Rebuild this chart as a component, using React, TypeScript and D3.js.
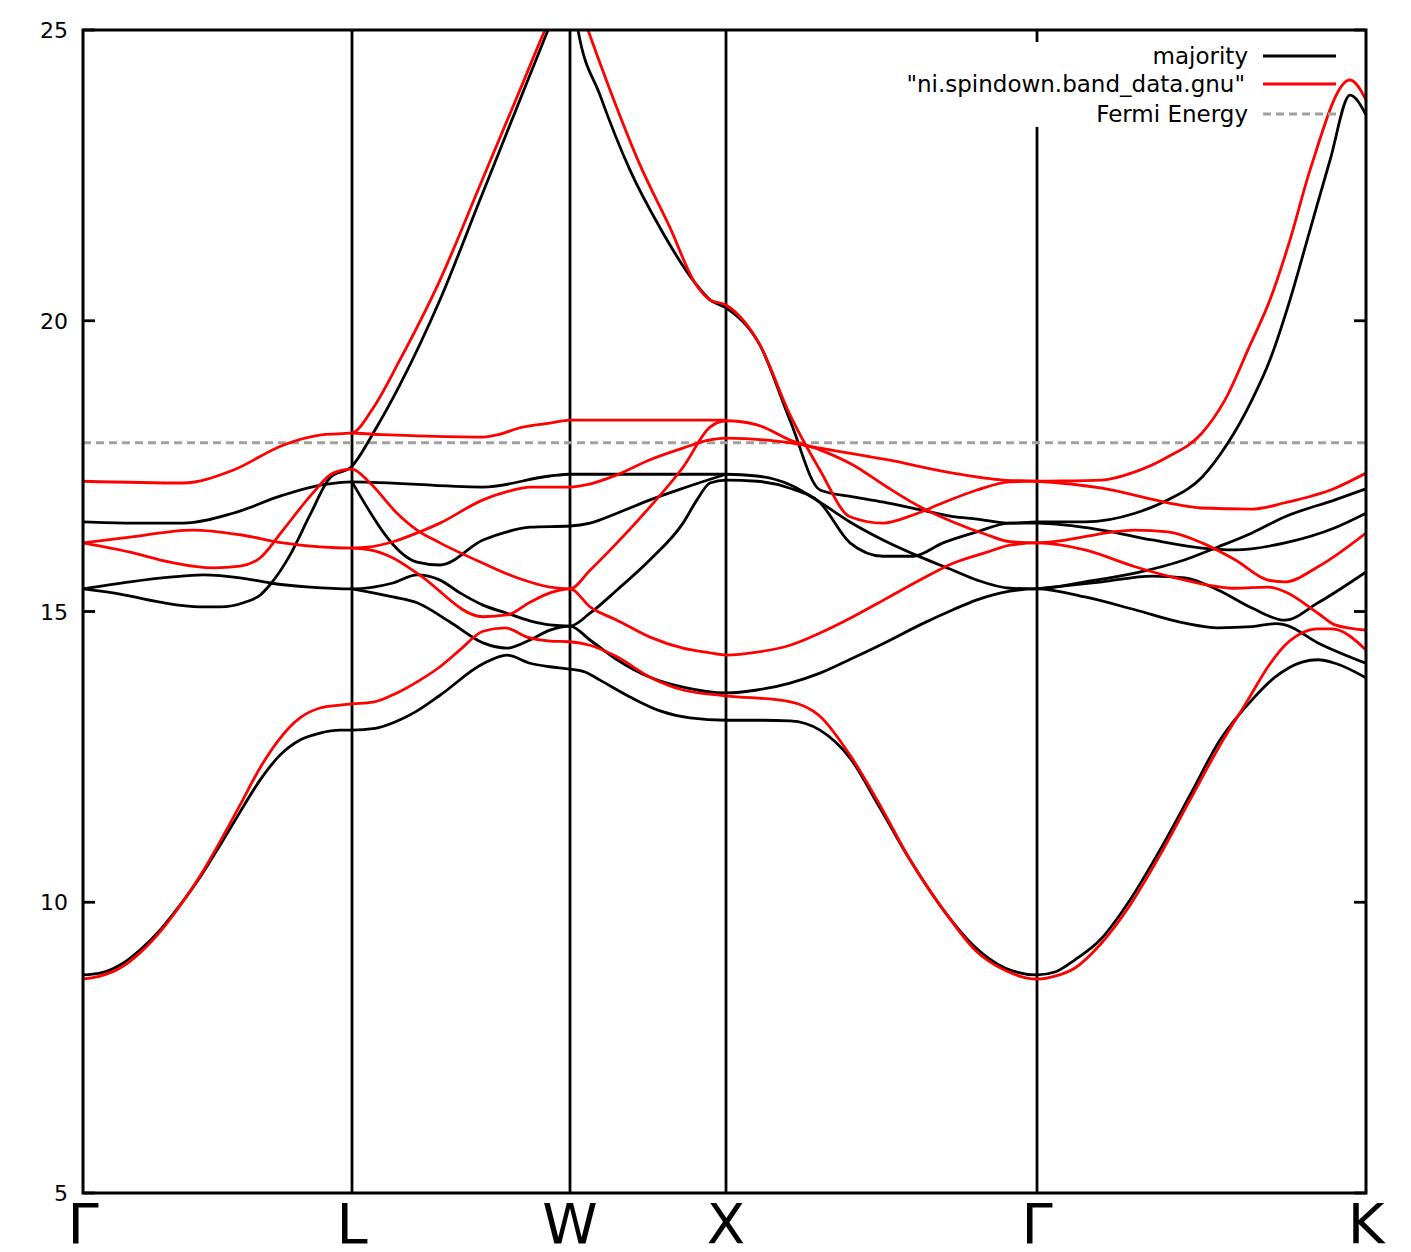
import React from "react";
import * as d3 from "d3";

// k-path positions of high-symmetry points (path-length units)
const symLabels = ["Γ", "L", "W", "X", "Γ", "K"];
const symK = [0, 269, 487, 643, 954, 1283];
const yTicks = [5, 10, 15, 20, 25];
const fermiEnergy = 17.9;

type Pt = [number, number];

// majority (spin-up) bands: [k, energy]
const maj1: Pt[] = [[0,8.75],[17,8.78],[37,8.92],[57,9.18],[77,9.52],[97,9.95],[117,10.43],[137,10.98],[157,11.55],[177,12.10],[197,12.53],[217,12.79],[237,12.91],[257,12.96],[269,12.96],[292,12.99],[312,13.10],[332,13.27],[357,13.56],[400,14.10],[424,14.25],[447,14.11],[467,14.05],[487,14.01],[502,13.96],[517,13.82],[547,13.53],[577,13.29],[607,13.17],[643,13.13],[677,13.13],[707,13.12],[737,12.96],[767,12.48],[797,11.62],[827,10.73],[862,9.83],[892,9.23],[922,8.87],[954,8.75],[972,8.80],[992,9.01],[1017,9.35],[1047,10.04],[1077,10.90],[1107,11.84],[1137,12.79],[1169,13.48],[1192,13.87],[1219,14.13],[1235,14.17],[1252,14.11],[1283,13.86]];
const maj2: Pt[] = [[0,15.39],[37,15.30],[77,15.16],[117,15.08],[137,15.08],[162,15.16],[177,15.28],[187,15.46],[207,15.97],[227,16.66],[247,17.30],[269,17.50],[292,18.12],[317,18.90],[357,20.36],[397,22.08],[437,23.80],[465,25.0],[487,25.9],[495,25.0],[517,23.88],[547,22.59],[577,21.6],[612,20.65],[627,20.36],[643,20.22],[677,19.58],[707,18.29],[737,17.09],[770,16.97],[804,16.87],[837,16.75],[870,16.63],[894,16.59],[927,16.52],[954,16.54],[1002,16.54],[1052,16.69],[1085,16.92],[1119,17.31],[1145,17.90],[1169,18.64],[1187,19.33],[1207,20.36],[1227,21.56],[1247,22.76],[1267,23.88],[1283,23.54]];
const maj3: Pt[] = [[0,15.39],[47,15.51],[87,15.59],[120,15.63],[157,15.58],[187,15.49],[227,15.42],[269,15.39],[310,15.49],[334,15.63],[357,15.54],[377,15.32],[400,15.11],[424,14.97],[447,14.84],[467,14.77],[487,14.75],[507,14.97],[534,15.37],[567,15.89],[600,16.52],[614,16.92],[627,17.21],[643,17.26],[674,17.24],[707,17.12],[737,16.87],[767,16.18],[800,15.95],[830,15.95],[860,16.18],[894,16.37],[927,16.52],[954,16.52],[1019,16.40],[1069,16.23],[1119,16.09],[1152,16.06],[1202,16.18],[1252,16.44],[1283,16.69]];
const maj4: Pt[] = [[0,16.54],[47,16.52],[100,16.52],[150,16.69],[200,17.00],[240,17.18],[269,17.23],[400,17.14],[467,17.33],[487,17.36],[643,17.36],[674,17.33],[707,17.18],[737,16.88],[767,16.54],[800,16.23],[837,15.94],[870,15.71],[894,15.54],[927,15.40],[954,15.39],[1002,15.51],[1052,15.66],[1102,15.89],[1135,16.11],[1169,16.35],[1202,16.63],[1252,16.92],[1283,17.11]];
const maj5: Pt[] = [[269,17.23],[334,15.85],[357,15.80],[400,16.23],[424,16.37],[447,16.45],[487,16.47],[507,16.52],[534,16.69],[567,16.92],[600,17.12],[643,17.36]];
const maj6: Pt[] = [[269,15.39],[310,15.25],[334,15.15],[367,14.82],[400,14.46],[424,14.37],[447,14.51],[467,14.68],[487,14.75],[507,14.51],[534,14.17],[567,13.87],[600,13.70],[643,13.60],[674,13.65],[707,13.77],[737,13.94],[770,14.20],[804,14.48],[837,14.77],[870,15.03],[894,15.20],[927,15.35],[954,15.39],[1002,15.25],[1052,15.03],[1102,14.80],[1135,14.72],[1169,14.74],[1192,14.79],[1202,14.77],[1235,14.46],[1283,14.11]];
const maj7: Pt[] = [[954,15.39],[1019,15.51],[1069,15.61],[1102,15.58],[1135,15.37],[1169,15.06],[1202,14.85],[1235,15.15],[1283,15.68]];

// minority (spin-down) bands
const min1: Pt[] = [[0,8.68],[17,8.73],[37,8.87],[57,9.13],[77,9.49],[97,9.94],[117,10.45],[137,11.04],[157,11.67],[177,12.31],[197,12.82],[217,13.17],[237,13.34],[257,13.39],[269,13.41],[290,13.44],[314,13.60],[337,13.82],[357,14.05],[377,14.34],[400,14.66],[422,14.72],[444,14.56],[467,14.49],[487,14.48],[507,14.42],[534,14.22],[567,13.87],[600,13.65],[643,13.55],[704,13.46],[737,13.20],[767,12.53],[797,11.67],[827,10.73],[862,9.83],[892,9.18],[922,8.83],[954,8.68],[972,8.73],[992,8.87],[1017,9.27],[1047,9.95],[1077,10.81],[1107,11.76],[1137,12.70],[1165,13.48],[1185,14.05],[1202,14.42],[1219,14.63],[1235,14.70],[1249,14.70],[1283,14.34]];
const min2: Pt[] = [[0,16.18],[47,16.02],[87,15.85],[130,15.75],[157,15.78],[177,15.92],[200,16.40],[230,17.04],[250,17.38],[269,17.45],[287,17.21],[314,16.69],[334,16.40],[357,16.18],[400,15.83],[434,15.58],[467,15.42],[487,15.39],[507,15.71],[534,16.18],[567,16.80],[600,17.48],[627,18.17],[643,18.28],[674,18.21],[707,17.95],[737,17.78],[770,17.52],[804,17.14],[837,16.80],[870,16.54],[904,16.32],[927,16.20],[954,16.18],[1052,16.40],[1085,16.37],[1119,16.18],[1152,15.89],[1185,15.54],[1202,15.51],[1235,15.77],[1283,16.35]];
const min3: Pt[] = [[0,16.18],[47,16.28],[110,16.40],[157,16.32],[200,16.18],[237,16.11],[269,16.09],[287,16.11],[310,16.20],[334,16.35],[357,16.52],[400,16.92],[424,17.06],[447,17.14],[487,17.14],[504,17.18],[534,17.35],[567,17.61],[600,17.81],[627,17.95],[643,17.98],[704,17.91],[737,17.81],[804,17.61],[870,17.38],[920,17.26],[954,17.24],[1019,17.12],[1085,16.87],[1119,16.78],[1169,16.76],[1202,16.87],[1252,17.12],[1283,17.38]];
const min4: Pt[] = [[269,16.09],[287,16.06],[310,15.92],[334,15.66],[400,14.91],[424,14.94],[447,15.16],[467,15.32],[487,15.39],[507,15.08],[534,14.85],[567,14.56],[600,14.37],[627,14.29],[643,14.25],[674,14.30],[707,14.42],[737,14.63],[770,14.91],[804,15.23],[837,15.54],[870,15.83],[904,16.02],[927,16.14],[954,16.18],[1002,16.06],[1052,15.77],[1102,15.54],[1152,15.40],[1185,15.42],[1202,15.34],[1235,14.97],[1252,14.77],[1283,14.68]];
const min5: Pt[] = [[0,17.24],[100,17.21],[150,17.43],[200,17.86],[240,18.04],[269,18.07],[289,18.47],[317,19.33],[357,20.70],[397,22.33],[437,23.97],[462,25.0],[487,25.9],[505,25.0],[527,23.97],[557,22.68],[587,21.6],[612,20.65],[627,20.36],[643,20.27],[677,19.58],[707,18.38],[737,17.43],[767,16.63],[800,16.52],[830,16.66],[860,16.87],[894,17.09],[927,17.23],[954,17.24],[1019,17.26],[1052,17.40],[1085,17.66],[1119,18.07],[1142,18.64],[1167,19.58],[1187,20.36],[1207,21.39],[1227,22.59],[1267,24.14],[1283,23.80]];
const min6: Pt[] = [[269,18.07],[300,18.04],[334,18.02],[400,18.00],[417,18.05],[437,18.16],[467,18.24],[487,18.29],[643,18.29]];

const majorityBands = [maj1, maj2, maj3, maj4, maj5, maj6, maj7];
const minorityBands = [min1, min2, min3, min4, min5, min6];

const W = 1411, H = 1252;
const L = 83, R = 1366, T = 30, B = 1193;
const FONT = "'DejaVu Sans', sans-serif";

export default function App() {
  const x = d3.scaleLinear().domain([0, 1283]).range([L, R]);
  const y = d3.scaleLinear().domain([5, 25]).range([B, T]);
  const line = d3.line<Pt>().x(d => x(d[0])).y(d => y(d[1])).curve(d3.curveMonotoneX);
  return (
    <svg width={W} height={H} style={{ position: "absolute", left: 0, top: 0, background: "#fff" }}>
      <defs>
        <clipPath id="plot"><rect x={L} y={T} width={R - L} height={B - T} /></clipPath>
      </defs>
      {symK.slice(1, 4).map((k, i) => (
        <line key={i} x1={x(k)} x2={x(k)} y1={T} y2={B} stroke="#000" strokeWidth={2.8} />
      ))}
      <line x1={x(symK[4])} x2={x(symK[4])} y1={B} y2={y(23.33)} stroke="#000" strokeWidth={2.8} />
      <line x1={x(symK[4])} x2={x(symK[4])} y1={T} y2={T + 12} stroke="#000" strokeWidth={2.8} />
      <g clipPath="url(#plot)">
        <line x1={L} x2={R} y1={y(fermiEnergy)} y2={y(fermiEnergy)} stroke="#a0a0a0" strokeWidth={3} strokeDasharray="8,5" />
        {majorityBands.map((b, i) => (
          <path key={"a" + i} d={line(b) || ""} fill="none" stroke="#000" strokeWidth={2.8} strokeLinejoin="round" />
        ))}
        {minorityBands.map((b, i) => (
          <path key={"b" + i} d={line(b) || ""} fill="none" stroke="#ff0000" strokeWidth={2.8} strokeLinejoin="round" />
        ))}
      </g>
      <rect x={L} y={T} width={R - L} height={B - T} fill="none" stroke="#000" strokeWidth={3} />
      {yTicks.map(t => (
        <g key={t}>
          <line x1={L} x2={L + 12} y1={y(t)} y2={y(t)} stroke="#000" strokeWidth={2.8} />
          <line x1={R - 12} x2={R} y1={y(t)} y2={y(t)} stroke="#000" strokeWidth={2.8} />
          <text x={68} y={y(t) + 8} textAnchor="end" fontFamily={FONT} fontSize={22}>{t}</text>
        </g>
      ))}
      {symLabels.map((s, i) => (
        <text key={i} x={x(symK[i])} y={1243} textAnchor="middle" fontFamily={FONT} fontSize={56}>{s}</text>
      ))}
      <g fontFamily={FONT} fontSize={23} textAnchor="end">
        <text x={1248} y={64}>majority</text>
        <line x1={1263} x2={1336} y1={56} y2={56} stroke="#000" strokeWidth={2.8} />
        <text x={1245} y={92}>"ni.spindown.band_data.gnu"</text>
        <line x1={1263} x2={1336} y1={84} y2={84} stroke="#ff0000" strokeWidth={2.8} />
        <text x={1248} y={122}>Fermi Energy</text>
        <line x1={1263} x2={1336} y1={114} y2={114} stroke="#a0a0a0" strokeWidth={3} strokeDasharray="8,5" />
      </g>
    </svg>
  );
}
